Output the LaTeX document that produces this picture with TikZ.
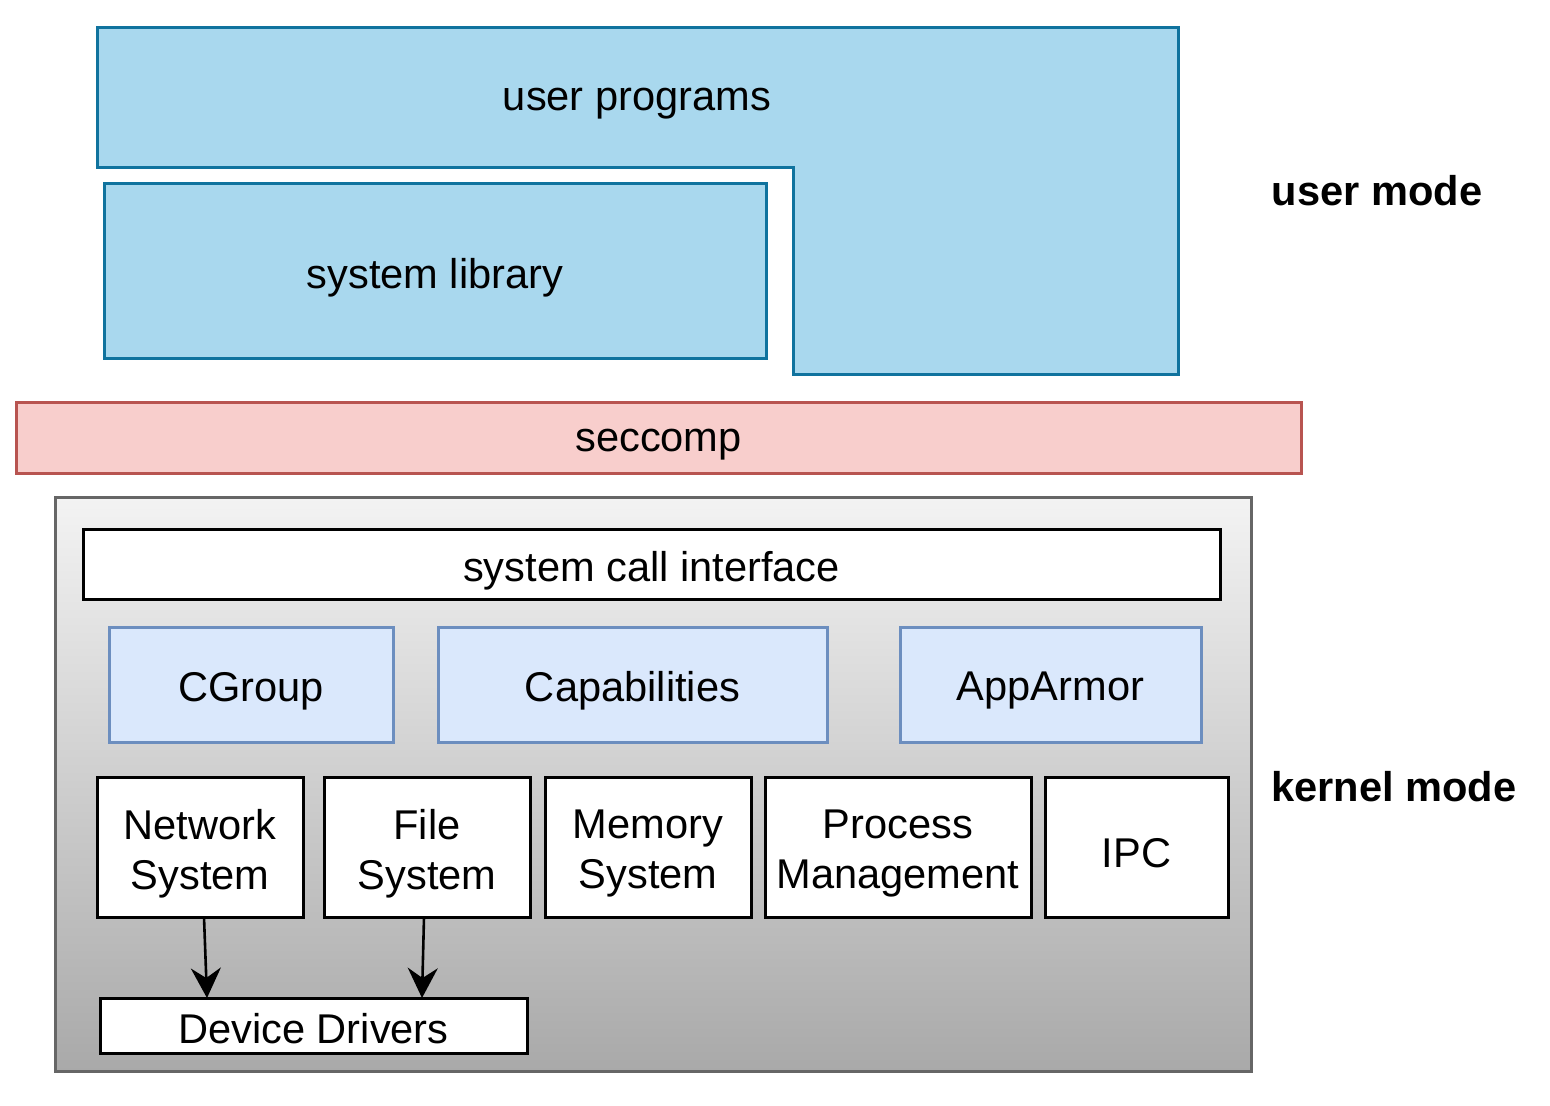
\documentclass[tikz,border=0pt]{standalone}
\usepackage{fontspec}
\setmainfont{Liberation Sans}
\usetikzlibrary{fit,arrows.meta}
\definecolor{ubfill}{HTML}{A9D8EE}
\definecolor{ubdraw}{HTML}{10739E}
\definecolor{scfill}{HTML}{F8CECC}
\definecolor{scdraw}{HTML}{B85450}
\definecolor{bfill}{HTML}{DAE8FC}
\definecolor{bdraw}{HTML}{6C8EBF}
\definecolor{kdraw}{HTML}{666666}
\definecolor{ktop}{HTML}{F3F3F3}
\definecolor{kbot}{HTML}{A9A9A9}
\tikzset{
  base/.style={inner sep=0pt, outer sep=0pt, align=center, font=\fontsize{20.8pt}{25pt}\selectfont},
  txt/.style={base, yshift=-3.2pt},
  userbox/.style={base, fill=ubfill, draw=ubdraw, line width=1.5pt},
  secbox/.style={base, fill=scfill, draw=scdraw, line width=1.5pt},
  kernbox/.style={base, top color=ktop, bottom color=kbot, draw=kdraw, line width=1.5pt},
  whitebox/.style={base, fill=white, draw=black, line width=1.5pt},
  bluebox/.style={base, fill=bfill, draw=bdraw, line width=1.5pt},
  modelabel/.style={font=\fontsize{20.8pt}{25pt}\selectfont\bfseries, inner sep=0pt},
  arr/.style={line width=1.3pt, -{Stealth[length=15pt, width=15pt, inset=5pt]}}
}
\begin{document}
\begin{tikzpicture}[x=0.5pt, y=-0.5pt]
\useasboundingbox (0,0) rectangle (1550,1106);
% user programs (L-shaped)
\draw[fill=ubfill, draw=ubdraw, line width=1.5pt]
  (97,28) -- (1178,28) -- (1178,375) -- (793,375) -- (793,168) -- (97,168) -- cycle;
\node[txt] (up) at (637,97) {user programs};
% system library
\node[userbox, fit={(104,184)(766,359)}] (syslib) {};
\node[txt] at (syslib.center) {system library};
% seccomp
\node[secbox, fit={(16,403)(1301,473)}] (sec) {};
\node[txt] at (sec.center) {seccomp};
% kernel
\node[kernbox, fit={(55,497)(1251,1071)}] (kern) {};
\node[whitebox, fit={(83,529)(1220,599)}] (sci) {};
\node[txt] at (sci.center) {system call interface};
\node[bluebox, fit={(109,627)(393,742)}] (cg) {};
\node[txt] at (cg.center) {CGroup};
\node[bluebox, fit={(438,627)(827,742)}] (cap) {};
\node[txt] at (cap.center) {Capabilities};
\node[bluebox, fit={(900,627)(1201,742)}] (aa) {};
\node[txt] at (aa.center) {AppArmor};
\node[whitebox, fit={(97,777)(303,917)}] (net) {};
\node[txt] at (net.center) {Network\\System};
\node[whitebox, fit={(324,777)(530,917)}] (fs) {};
\node[txt] at (fs.center) {File\\System};
\node[whitebox, fit={(545,777)(751,917)}] (mem) {};
\node[txt] at (mem.center) {Memory\\System};
\node[whitebox, fit={(765,777)(1031,917)}] (pm) {};
\node[txt] at (pm.center) {Process\\Management};
\node[whitebox, fit={(1045,777)(1228,917)}] (ipc) {};
\node[txt] at (ipc.center) {IPC};
\node[whitebox, fit={(100,998)(527,1053)}] (dd) {};
\node[base, yshift=-1.5pt] at (dd.center) {Device Drivers};
% arrows
\draw[arr] ([xshift=2pt]net.south) -- ([xshift=53.5pt]dd.north west);
\draw[arr] ([xshift=-1.5pt]fs.south) -- ([xshift=161pt]dd.north west);
% mode labels
\node[modelabel] (um) at (1377,191) {user mode};
\node[modelabel] (km) at (1394,787) {kernel mode};
\end{tikzpicture}
\end{document}
